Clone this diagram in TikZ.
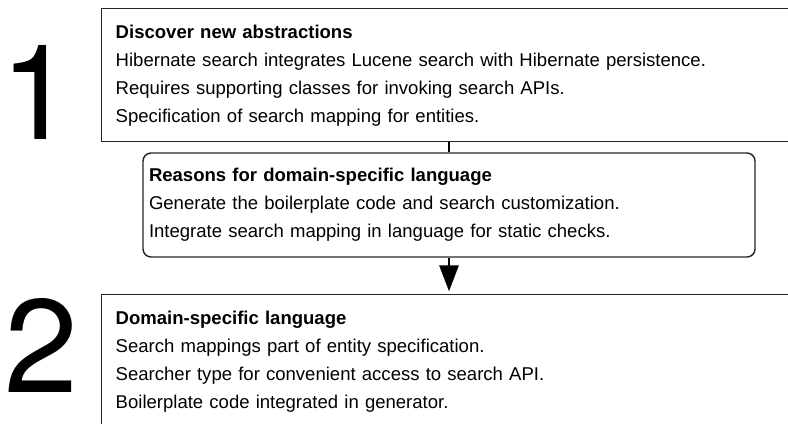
\documentclass[tikz,border=0pt]{standalone}
\usepackage{fontspec}
\setmainfont{Liberation Sans}
\newfontfamily\numfont{TeX Gyre Heros}
\usetikzlibrary{arrows.meta}
\def\HD#1{\textbf{#1}\\}

\begin{document}
\begin{tikzpicture}[x=0.75pt,y=-0.75pt,
  every node/.style={font=\fontsize{13.9}{21}\selectfont},
  stepbox/.style={draw=black!85,line width=1.1pt,anchor=north west,minimum width=525pt,
    minimum height=99.75pt,text width=504pt,inner xsep=10.5pt,align=left},
  whybox/.style={draw=black!85,line width=1.1pt,rounded corners=6pt,minimum width=459pt,
    minimum height=78pt,text width=450pt,inner xsep=4.5pt,align=left},
  num/.style={anchor=base,inner sep=0pt,font=\numfont\fontsize{99.5}{100}\selectfont},
  link/.style={line width=2.2pt}]
\clip (0,0) rectangle (788,424);
\node[num] (one) at (37,140) {1};
\node[num] (two) at (41,392) {2};
\node[stepbox] (discover) at (101,8) {\HD{Discover new abstractions}
  Hibernate search integrates Lucene search with Hibernate persistence.\\
  Requires supporting classes for invoking search APIs.\\
  Specification of search mapping for entities.};
\node[whybox] (reasons) at (449,205) {\HD{Reasons for domain-specific language}
  Generate the boilerplate code and search customization.\\
  Integrate search mapping in language for static checks.};
\node[stepbox] (dsl) at (101,294) {\HD{Domain-specific language}
  Search mappings part of entity specification.\\
  Searcher type for convenient access to search API.\\
  Boilerplate code integrated in generator.};
% connectors
\draw[link] (reasons.north) -- (reasons.north |- discover.south);
\draw[link,-{Triangle[length=19.5pt,width=14.25pt]},shorten >=2pt]
  (reasons.south) -- (reasons.south |- dsl.north);
\end{tikzpicture}
\end{document}
